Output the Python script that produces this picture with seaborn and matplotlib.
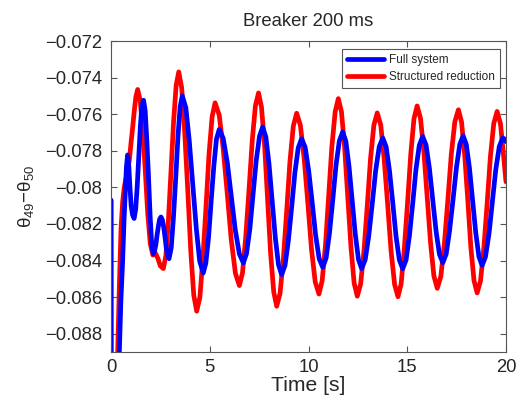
import matplotlib
matplotlib.use("Agg")
import matplotlib.pyplot as plt
import seaborn as sns
import pandas as pd

# ---------------- data ----------------
t_full = [0.00, 0.01, 0.20, 0.30, 0.42, 0.50, 0.59, 0.66, 0.72, 0.78, 0.84, 0.90, 0.96, 1.02, 1.09, 1.17,
          1.25, 1.33, 1.41, 1.49, 1.57, 1.65,
          1.73, 1.81, 1.90, 1.98, 2.06, 2.14,
          2.20, 2.27, 2.33, 2.40, 2.46, 2.53,
          2.60, 2.67, 2.74, 2.80, 2.87, 2.94,
          3.05, 3.16, 3.28, 3.39, 3.50, 3.61,
          3.79, 3.96, 4.14, 4.32, 4.49, 4.67,
          4.80, 4.94, 5.07, 5.21, 5.34, 5.48,
          5.68, 5.89, 6.09, 6.29, 6.50, 6.70,
          6.86, 7.03, 7.19, 7.35, 7.52, 7.68,
          7.84, 8.00, 8.16, 8.32, 8.48, 8.64,
          8.81, 8.98, 9.15, 9.31, 9.48, 9.65,
          9.83, 10.01, 10.19, 10.36, 10.54, 10.72,
          10.89, 11.06, 11.23, 11.39, 11.56, 11.73,
          11.89, 12.05, 12.21, 12.37, 12.53, 12.69,
          12.87, 13.05, 13.23, 13.40, 13.58, 13.76,
          13.93, 14.10, 14.27, 14.43, 14.60, 14.77,
          14.94, 15.11, 15.28, 15.44, 15.61, 15.78,
          15.95, 16.12, 16.29, 16.46, 16.63, 16.80,
          16.97, 17.14, 17.32, 17.49, 17.66, 17.83,
          17.99, 18.15, 18.31, 18.47, 18.63, 18.79,
          18.96, 19.14, 19.31, 19.48, 19.66, 19.83,
          19.92, 20.00]
theta_full = [-0.0807, -0.0960, -0.0960, -0.0935, -0.0890, -0.0862, -0.0840, -0.0818, -0.0803, -0.0789, -0.07823,
              -0.0788, -0.0800, -0.0810, -0.0815, -0.0817,
              -0.0812, -0.0799, -0.0783, -0.0766, -0.0755, -0.07524,
              -0.07580, -0.07734, -0.07944, -0.08154, -0.08308, -0.08364,
              -0.08350, -0.08314, -0.08263, -0.08212, -0.08175, -0.08162,
              -0.08177, -0.08219, -0.08276, -0.08333, -0.08375, -0.08390,
              -0.08330, -0.08168, -0.07945, -0.07723, -0.07560, -0.07500,
              -0.07565, -0.07742, -0.07984, -0.08226, -0.08403, -0.08468,
              -0.08415, -0.08272, -0.08076, -0.07879, -0.07736, -0.07683,
              -0.07732, -0.07866, -0.08048, -0.08231, -0.08364, -0.08413,
              -0.08363, -0.08227, -0.08042, -0.07856, -0.07720, -0.07670,
              -0.07724, -0.07872, -0.08074, -0.08275, -0.08423, -0.08477,
              -0.08427, -0.08291, -0.08106, -0.07920, -0.07784, -0.07734,
              -0.07781, -0.07910, -0.08086, -0.08261, -0.08390, -0.08437,
              -0.08387, -0.08252, -0.08067, -0.07882, -0.07747, -0.07697,
              -0.07747, -0.07884, -0.08071, -0.08257, -0.08394, -0.08444,
              -0.08396, -0.08266, -0.08087, -0.07909, -0.07778, -0.07730,
              -0.07778, -0.07909, -0.08088, -0.08266, -0.08397, -0.08445,
              -0.08397, -0.08264, -0.08084, -0.07903, -0.07770, -0.07722,
              -0.07768, -0.07895, -0.08067, -0.08240, -0.08366, -0.08412,
              -0.08365, -0.08239, -0.08065, -0.07892, -0.07765, -0.07718,
              -0.07766, -0.07895, -0.08073, -0.08250, -0.08379, -0.08427,
              -0.08380, -0.08253, -0.08079, -0.07904, -0.07777, -0.07730,
              -0.07735, -0.07750]

t_red = [0.00, 0.01, 0.20, 0.28, 0.34, 0.42, 0.51, 0.59, 0.67, 0.80, 0.93, 1.02, 1.10, 1.18, 1.26, 1.35,
         1.48, 1.61, 1.74, 1.86, 1.99, 2.12,
         2.25, 2.38, 2.50, 2.65,
         2.78, 2.91, 3.04, 3.17, 3.30, 3.43,
         3.58, 3.73, 3.89, 4.04, 4.19, 4.34,
         4.50, 4.65, 4.81, 4.96, 5.12, 5.27,
         5.48, 5.68, 5.89, 6.09, 6.30, 6.50,
         6.66, 6.82, 6.99, 7.15, 7.31, 7.47,
         7.62, 7.78, 7.93, 8.08, 8.24, 8.39,
         8.56, 8.73, 8.90, 9.06, 9.23, 9.40,
         9.59, 9.78, 9.97, 10.15, 10.34, 10.53,
         10.69, 10.86, 11.02, 11.18, 11.35, 11.51,
         11.67, 11.83, 11.99, 12.15, 12.31, 12.47,
         12.64, 12.81, 12.98, 13.14, 13.31, 13.48,
         13.66, 13.83, 14.01, 14.18, 14.36, 14.53,
         14.69, 14.85, 15.02, 15.18, 15.34, 15.50,
         15.67, 15.84, 16.01, 16.18, 16.35, 16.52,
         16.70, 16.88, 17.06, 17.23, 17.41, 17.59,
         17.75, 17.91, 18.07, 18.22, 18.38, 18.54,
         18.71, 18.88, 19.05, 19.21, 19.38, 19.55,
         19.72, 19.88, 20.00]
theta_red = [-0.0807, -0.0960, -0.0960, -0.0915, -0.0889, -0.0855, -0.0822, -0.0808, -0.0800, -0.0793, -0.0785,
             -0.0775, -0.0767, -0.0758, -0.07505, -0.07465,
             -0.07526, -0.07691, -0.07918, -0.08144, -0.08309, -0.08370,
             -0.08360, -0.08390, -0.08430, -0.08444,
             -0.08372, -0.08175, -0.07907, -0.07638, -0.07441, -0.07369,
             -0.07457, -0.07696, -0.08023, -0.08350, -0.08589, -0.08677,
             -0.08601, -0.08392, -0.08108, -0.07823, -0.07614, -0.07538,
             -0.07605, -0.07788, -0.08038, -0.08288, -0.08470, -0.08537,
             -0.08466, -0.08274, -0.08011, -0.07747, -0.07555, -0.07484,
             -0.07562, -0.07776, -0.08067, -0.08359, -0.08572, -0.08650,
             -0.08579, -0.08386, -0.08123, -0.07859, -0.07666, -0.07595,
             -0.07661, -0.07842, -0.08089, -0.08336, -0.08517, -0.08583,
             -0.08511, -0.08316, -0.08049, -0.07782, -0.07587, -0.07515,
             -0.07587, -0.07785, -0.08055, -0.08325, -0.08523, -0.08595,
             -0.08528, -0.08345, -0.08094, -0.07844, -0.07660, -0.07593,
             -0.07660, -0.07844, -0.08096, -0.08347, -0.08531, -0.08598,
             -0.08528, -0.08337, -0.08077, -0.07816, -0.07625, -0.07555,
             -0.07622, -0.07804, -0.08054, -0.08303, -0.08485, -0.08552,
             -0.08487, -0.08308, -0.08064, -0.07820, -0.07641, -0.07576,
             -0.07643, -0.07826, -0.08077, -0.08327, -0.08510, -0.08577,
             -0.08511, -0.08329, -0.08081, -0.07833, -0.07651, -0.07585,
             -0.07652, -0.07830, -0.07970]

series_names = ["Full system", "Structured reduction"]
x_ticks = [0, 5, 10, 15, 20]
y_ticks = [-0.088, -0.086, -0.084, -0.082, -0.080, -0.078, -0.076, -0.074, -0.072]
y_tick_labels = ["\u22120.088", "\u22120.086", "\u22120.084", "\u22120.082", "\u22120.08",
                 "\u22120.078", "\u22120.076", "\u22120.074", "\u22120.072"]
title_text = "Breaker 200 ms"
x_label = "Time [s]"
y_label = "\u03b8$_{49}$\u2212\u03b8$_{50}$"

# ---------------- style ----------------
sns.set_style("ticks")
plt.rcParams["font.family"] = ["Liberation Sans", "DejaVu Sans"]
plt.rcParams["mathtext.fontset"] = "custom"
plt.rcParams["mathtext.rm"] = "Liberation Sans"
plt.rcParams["mathtext.it"] = "Liberation Sans"
plt.rcParams["axes.unicode_minus"] = True

df_full = pd.DataFrame({"t": t_full, "theta": theta_full})
df_red = pd.DataFrame({"t": t_red, "theta": theta_red})

fig = plt.figure(figsize=(5.23, 4.01), dpi=100)
ax = fig.add_axes([111 / 523, 1 - 352 / 401, 395 / 523, 311 / 401])

sns.lineplot(data=df_red, x="t", y="theta", ax=ax, color="#ff0000", lw=3.4,
             label=series_names[1], sort=False, estimator=None)
sns.lineplot(data=df_full, x="t", y="theta", ax=ax, color="#0000ff", lw=3.4,
             label=series_names[0], sort=False, estimator=None)

ax.set_xlim(0, 20)
ax.set_ylim(-0.089, -0.072)
ax.set_xticks(x_ticks)
ax.set_xticklabels([str(v) for v in x_ticks])
ax.set_yticks(y_ticks)
ax.set_yticklabels(y_tick_labels)

for s in ax.spines.values():
    s.set_visible(True)
    s.set_color("#555555")
    s.set_linewidth(0.8)
ax.tick_params(direction="in", length=4, width=0.8, color="#555555",
               top=True, right=True, labelsize=13.3)
ax.tick_params(axis="y", pad=6.5)
ax.tick_params(axis="x", pad=5)

ax.set_title(title_text, fontsize=13.3, pad=11)
ax.set_xlabel(x_label, fontsize=15.2, labelpad=0)
ax.set_ylabel(y_label, fontsize=13.5, labelpad=6)

handles, labels = ax.get_legend_handles_labels()
order = [labels.index(n) for n in series_names]
leg = ax.legend([handles[i] for i in order], [labels[i] for i in order],
                loc="upper right", bbox_to_anchor=(1 - 6 / 395, 1 - 8 / 311),
                borderaxespad=0, fontsize=8.5, handlelength=3.1, handletextpad=0.45,
                labelspacing=0.4, borderpad=0.45, fancybox=False, framealpha=1,
                edgecolor="#555555")
leg.get_frame().set_linewidth(0.8)

fig.savefig("out.png", dpi=100)
